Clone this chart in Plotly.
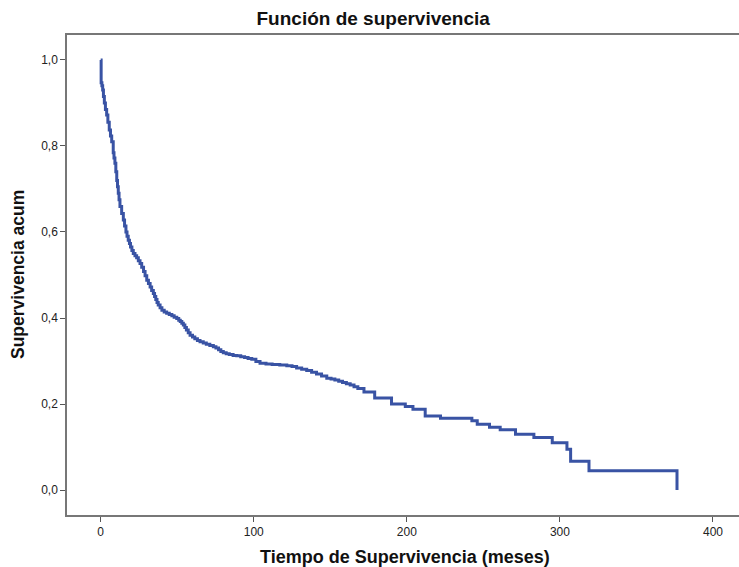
import plotly.graph_objects as go

# Kaplan-Meier survival estimate (time in months, cumulative survival)
tiempo = [0, 0.3, 0.8, 1.3, 1.8, 2.4, 3.1, 3.9, 4.7, 5.6, 6.4, 7.2, 8.2, 8.7, 9.3, 9.9,
          10.5, 11.0, 11.5, 12.0, 12.6, 13.7, 14.8, 15.6, 16.5, 17.2, 18.0, 18.8, 19.5,
          20.4, 21.3, 22.4, 23.5, 24.6, 25.7, 26.8, 28.0, 29.0, 30.1, 31.2, 32.3, 33.3,
          34.4, 35.2, 36.0, 36.8, 37.6, 38.8, 40.0, 41.5, 43.1, 44.8, 46.5, 48.0, 49.7,
          51.0, 52.0, 53.0, 54.0, 55.0, 56.0, 57.2, 58.4, 60.0, 61.5, 63.2, 64.9, 67.0,
          69.0, 71.3, 73.6, 75.3, 77.0, 78.5, 80.1, 82.0, 84.0, 86.5, 88.9, 91.5, 94.0,
          96.3, 98.7, 101.4, 104.1, 108.0, 112.0, 117.0, 121.6, 125.0, 128.0, 131.3,
          134.6, 137.8, 141.0, 144.3, 147.7, 150.5, 153.0, 155.5, 158.0, 160.5, 163.0,
          165.5, 168.0, 172.0, 179.0, 190.0, 199.0, 204.0, 212.0, 222.0, 242.5, 246.0,
          254.0, 261.0, 271.0, 283.0, 295.0, 304.6, 307.0, 319.0, 376.5]
supervivencia = [1.0, 0.947, 0.94, 0.93, 0.915, 0.90, 0.885, 0.872, 0.855, 0.837, 0.823,
                 0.81, 0.784, 0.772, 0.76, 0.74, 0.72, 0.705, 0.69, 0.675, 0.659, 0.643,
                 0.628, 0.614, 0.60, 0.59, 0.581, 0.573, 0.565, 0.557, 0.550, 0.545, 0.540,
                 0.533, 0.527, 0.518, 0.508, 0.498, 0.488, 0.480, 0.472, 0.464, 0.457, 0.450,
                 0.443, 0.436, 0.430, 0.424, 0.418, 0.414, 0.411, 0.408, 0.405, 0.402, 0.399,
                 0.395, 0.392, 0.388, 0.384, 0.378, 0.372, 0.366, 0.360, 0.356, 0.352, 0.348,
                 0.345, 0.342, 0.339, 0.336, 0.333, 0.330, 0.326, 0.322, 0.319, 0.317, 0.315,
                 0.313, 0.312, 0.310, 0.308, 0.306, 0.304, 0.299, 0.295, 0.293, 0.292, 0.291,
                 0.289, 0.287, 0.284, 0.281, 0.278, 0.274, 0.270, 0.265, 0.260, 0.258, 0.256,
                 0.253, 0.250, 0.247, 0.244, 0.240, 0.236, 0.228, 0.214, 0.200, 0.194, 0.188,
                 0.172, 0.167, 0.161, 0.153, 0.146, 0.140, 0.130, 0.122, 0.110, 0.095, 0.067,
                 0.045, 0.0]

x_ticks = [0, 100, 200, 300, 400]
y_ticks = [0.0, 0.2, 0.4, 0.6, 0.8, 1.0]

FONT = "Liberation Sans, Arial, sans-serif"

fig = go.Figure()
fig.add_trace(go.Scatter(
    x=tiempo, y=supervivencia, mode="lines",
    line=dict(shape="hv", color="#3953a4", width=3),
    showlegend=False, hoverinfo="skip"))

axis_common = dict(
    showgrid=False, zeroline=False, showline=True, linecolor="#777777", linewidth=1.5,
    ticks="outside", ticklen=5, tickwidth=1.2, tickcolor="#555555",
    tickfont=dict(family=FONT, size=12, color="#222222"))

fig.update_layout(
    width=739, height=567,
    margin=dict(l=67, r=0, t=35, b=52),
    plot_bgcolor="white", paper_bgcolor="white",
    separators=",.",
    title=dict(text="<b>Función de supervivencia</b>", x=0.505, xref="container",
               xanchor="center", y=1 - 18 / 567, yref="container", yanchor="middle",
               font=dict(family=FONT, size=19, color="#111111")),
    xaxis=dict(range=[-22, 417], tickvals=x_ticks, mirror=True, **axis_common),
    yaxis=dict(range=[-0.058, 1.058], tickvals=y_ticks, tickformat=".1f", **axis_common),
    annotations=[
        dict(text="<b>Tiempo de Supervivencia (meses)</b>", xref="paper", yref="paper",
             x=0.503, y=0, yshift=-42, xanchor="center", yanchor="middle", showarrow=False,
             font=dict(family=FONT, size=18, color="#111111")),
        dict(text="<b>Supervivencia acum</b>", xref="paper", yref="paper",
             x=0, xshift=-49, y=0.5, xanchor="center", yanchor="middle", textangle=-90,
             showarrow=False, font=dict(family=FONT, size=17.5, color="#111111")),
    ],
)

fig.write_html("out.html")
